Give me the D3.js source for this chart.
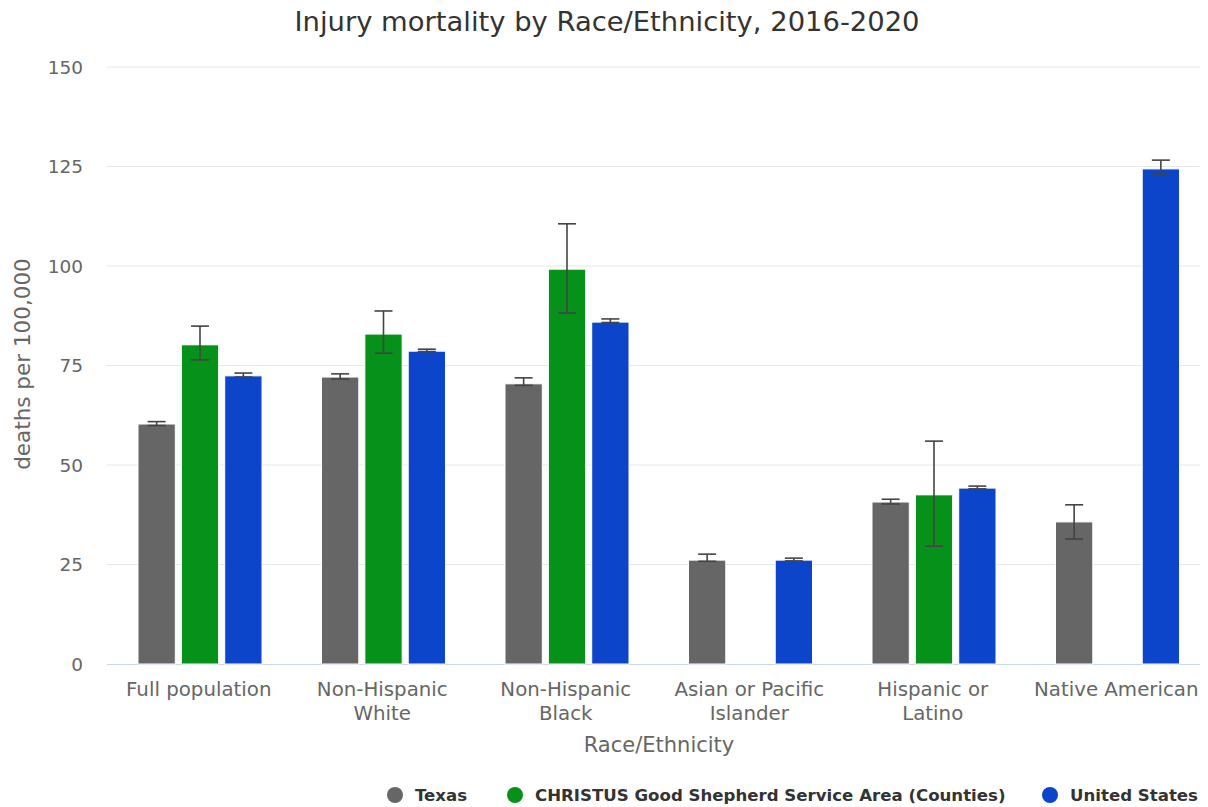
<!DOCTYPE html>
<html><head><meta charset="utf-8">
<script src="https://cdn.jsdelivr.net/npm/d3@7"></script>
<style>body{margin:0;background:#fff;font-family:"DejaVu Sans",sans-serif}</style>
</head><body><svg id="c" width="1208" height="807"></svg>
<script>
const categories = ["Full population","Non-Hispanic White","Non-Hispanic Black","Asian or Pacific Islander","Hispanic or Latino","Native American"];
const catLines = [["Full population"],["Non-Hispanic","White"],["Non-Hispanic","Black"],["Asian or Pacific","Islander"],["Hispanic or","Latino"],["Native American"]];
const seriesNames = ["Texas","CHRISTUS Good Shepherd Service Area (Counties)","United States"];
const seriesColors = ["#666666","#05911a","#0c45c9"];
const texasValues = [60.3,72.1,70.4,26.1,40.7,35.7];
const texasLow    = [59.9,71.6,70.0,25.8,40.2,31.4];
const texasHigh   = [60.9,72.9,71.9,27.6,41.4,40.0];
const cgsValues   = [80.2,82.9,99.2,null,42.5,null];
const cgsLow      = [76.4,78.1,88.2,null,29.6,null];
const cgsHigh     = [84.9,88.7,110.6,null,56.0,null];
const usValues    = [72.4,78.6,85.9,26.1,44.2,124.4];
const usLow       = [72.1,78.5,85.8,25.9,44.0,123.1];
const usHigh      = [73.1,79.1,86.7,26.6,44.7,126.6];
const yTicks = [0,25,50,75,100,125,150];

const series = [
  {values:texasValues,low:texasLow,high:texasHigh},
  {values:cgsValues,low:cgsLow,high:cgsHigh},
  {values:usValues,low:usLow,high:usHigh}
];
const svg = d3.select("#c");
const L=107,R=1208,T=67,B=664;
const x = d3.scaleBand().domain(categories).range([L,R]).paddingInner(0).paddingOuter(0);
const inner = d3.scaleBand().domain([0,1,2]).range([31,155]).paddingInner(0.14).paddingOuter(0);
const y = d3.scaleLinear().domain([0,150]).range([B,T]);

svg.append("g").selectAll("line").data(yTicks.filter(d=>d>0)).join("line")
  .attr("x1",L).attr("x2",1200).attr("y1",d=>y(d)).attr("y2",d=>y(d))
  .attr("stroke","#e6e6e6").attr("stroke-width",1);
svg.append("g").selectAll("text").data(yTicks).join("text")
  .attr("x",83).attr("y",d=>y(d)+6.5).attr("text-anchor","end")
  .attr("font-size",18.5).attr("fill","#666").text(d=>d);
svg.append("line").attr("x1",L).attr("x2",1200).attr("y1",B+0.5).attr("y2",B+0.5).attr("stroke","#ccd6eb");

series.forEach((s,si)=>{
  const g = svg.append("g");
  const data = categories.map((c,i)=>({c,v:s.values[i]})).filter(d=>d.v!=null);
  g.selectAll("rect").data(data).join("rect")
    .attr("x",d=>x(d.c)+inner(si)).attr("width",inner.bandwidth())
    .attr("y",d=>y(d.v)).attr("height",d=>B-y(d.v))
    .attr("fill",seriesColors[si]).attr("stroke","#fff").attr("stroke-width",1);
});
series.forEach((s,si)=>{
  const g = svg.append("g").attr("stroke","#444").attr("stroke-width",1.6).attr("fill","none");
  categories.forEach((c,i)=>{
    if(s.values[i]==null) return;
    const cx = x(c)+inner(si)+inner.bandwidth()/2;
    g.append("line").attr("x1",cx).attr("x2",cx).attr("y1",y(s.low[i])).attr("y2",y(s.high[i]));
    g.append("line").attr("x1",cx-9).attr("x2",cx+9).attr("y1",y(s.low[i])).attr("y2",y(s.low[i]));
    g.append("line").attr("x1",cx-9).attr("x2",cx+9).attr("y1",y(s.high[i])).attr("y2",y(s.high[i]));
  });
});
categories.forEach((c,i)=>{
  const t = svg.append("text").attr("x",x(c)+x.bandwidth()/2).attr("y",696).attr("text-anchor","middle")
    .attr("font-size",19.8).attr("fill","#666");
  catLines[i].forEach((ln,j)=>t.append("tspan").attr("x",x(c)+x.bandwidth()/2).attr("dy",j?24:0).text(ln));
});
svg.append("text").attr("x",659).attr("y",752).attr("text-anchor","middle").attr("font-size",21).attr("fill","#666").text("Race/Ethnicity");
svg.append("text").attr("transform","translate(30,364) rotate(-90)").attr("text-anchor","middle").attr("font-size",21.5).attr("fill","#666").text("deaths per 100,000");
svg.append("text").attr("x",607).attr("y",31).attr("text-anchor","middle").attr("font-size",27.4).attr("fill","#333").text("Injury mortality by Race/Ethnicity, 2016-2020");
const legX=[395,515,1050];
seriesNames.forEach((n,i)=>{
  svg.append("circle").attr("cx",legX[i]).attr("cy",795).attr("r",8).attr("fill",seriesColors[i]);
  svg.append("text").attr("x",legX[i]+20).attr("y",801).attr("font-size",16.6).attr("font-weight","bold").attr("fill","#333").text(n);
});
</script></body></html>
